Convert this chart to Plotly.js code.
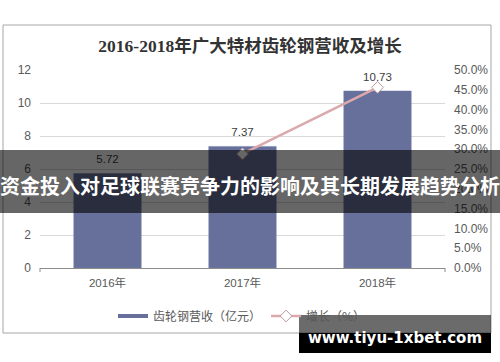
<!DOCTYPE html>
<html>
<head>
<meta charset="utf-8">
<script src="https://cdn.plot.ly/plotly-3.0.1.min.js"></script>
<style>html,body{margin:0;padding:0;background:#fff;}#chart{width:500px;height:362px;}</style>
</head>
<body>
<div id="chart"></div>
<script>
// ---- data ----
const categories = ['2016年', '2017年', '2018年'];
const revenue = [5.72, 7.37, 10.73];          // 齿轮钢营收（亿元）
const growth = [null, 0.288, 0.456];          // 增长（%）
const leftTicks = [0, 2, 4, 6, 8, 10, 12];
const rightTicks = [0, 0.05, 0.10, 0.15, 0.20, 0.25, 0.30, 0.35, 0.40, 0.45, 0.50];
const titleText = '2016-2018年广大特材齿轮钢营收及增长';
const revenueName = '齿轮钢营收（亿元）';
const growthName = '增长（%）';
const bannerText = '资金投入对足球联赛竞争力的影响及其长期发展趋势分析';
const watermarkText = 'www.tiyu-1xbet.com';

// ---- styles ----
const barColor = '#66709b';
const lineColor = '#dba9ac';
const txtColor = '#595959';
const font = 'Liberation Sans, Arial, Noto Sans CJK SC, sans-serif';
const cjk = 'Noto Sans CJK SC, sans-serif';

// pixel helpers -> paper coords (plot area x:40..445, y:70..268)
const px = v => (v - 40) / 405;
const py = v => (268 - v) / 198;

const traces = [
  {
    type: 'bar', x: categories, y: revenue, name: revenueName,
    marker: { color: barColor, line: { color: '#7a84ad', width: 0.5 } },
    showlegend: false, hoverinfo: 'x+y'
  },
  {
    type: 'scatter', mode: 'markers+text', x: categories, y: revenue,
    text: revenue.map(v => v.toFixed(2)), textposition: 'top center',
    textfont: { family: font, size: 11.5, color: '#404040' },
    marker: { size: 10, opacity: 0 }, showlegend: false, hoverinfo: 'skip'
  },
  {
    type: 'scatter', mode: 'lines', x: [null], y: [null], name: revenueName,
    line: { color: barColor, width: 4 }, showlegend: true, hoverinfo: 'skip'
  },
  {
    type: 'scatter', mode: 'lines+markers', x: categories, y: growth, yaxis: 'y2',
    name: growthName, connectgaps: false,
    line: { color: lineColor, width: 2.5 },
    marker: { symbol: 'diamond', size: 9, color: '#ffffff', line: { color: '#b89a9c', width: 1 } }
  }
];

const layout = {
  width: 500, height: 362,
  margin: { l: 40, r: 55, t: 70, b: 94 },
  paper_bgcolor: '#ffffff', plot_bgcolor: '#ffffff',
  font: { family: font, size: 12, color: txtColor },
  title: {
    text: titleText, x: 0.5, xref: 'container', xanchor: 'center',
    y: 1 - 46 / 362, yref: 'container', yanchor: 'middle',
    font: { family: 'Liberation Serif, Noto Sans CJK SC, serif', size: 17.5, color: '#333333', weight: 'bold' }
  },
  bargap: 0.5,
  xaxis: {
    type: 'category', showgrid: false, zeroline: false,
    showline: true, linecolor: '#8c8c8c', linewidth: 1,
    ticks: '', ticklabelstandoff: 4,
    tickfont: { family: font, size: 11.5, color: txtColor }, fixedrange: true
  },
  yaxis: {
    range: [0, 12], tickvals: leftTicks, ticktext: leftTicks.map(String),
    showgrid: true, gridcolor: '#d9d9d9', gridwidth: 1, zeroline: false, showline: false,
    ticks: '', ticklabelstandoff: 8,
    tickfont: { family: font, size: 12, color: txtColor }, fixedrange: true
  },
  yaxis2: {
    overlaying: 'y', side: 'right', range: [0, 0.5], tickvals: rightTicks,
    tickformat: '.1%', showgrid: false, zeroline: false, showline: false,
    ticks: '', ticklabelstandoff: 8,
    tickfont: { family: font, size: 12, color: txtColor }, fixedrange: true
  },
  showlegend: true,
  legend: {
    orientation: 'h', xref: 'container', yref: 'container',
    x: 113 / 500, xanchor: 'left', y: 1 - 316 / 362, yanchor: 'middle',
    font: { family: cjk, size: 12, color: txtColor },
    bgcolor: 'rgba(0,0,0,0)', traceorder: 'normal', itemclick: false
  },
  shapes: [
    // outer chart frame
    { type: 'rect', xref: 'paper', yref: 'paper', x0: px(3), x1: px(491), y0: py(333), y1: py(25),
      line: { color: '#a6a6a6', width: 1 }, fillcolor: 'rgba(0,0,0,0)', layer: 'below' },
    // x-axis end ticks
    { type: 'line', xref: 'paper', yref: 'paper', x0: 0, x1: 0, y0: 0, y1: py(272), line: { color: '#8c8c8c', width: 1 } },
    { type: 'line', xref: 'paper', yref: 'paper', x0: 1, x1: 1, y0: 0, y1: py(272), line: { color: '#8c8c8c', width: 1 } },
    // banner
    { type: 'rect', xref: 'paper', yref: 'paper', x0: px(-5), x1: px(505), y0: py(213), y1: py(150),
      line: { width: 0 }, fillcolor: 'rgba(0,0,0,0.6)', layer: 'above' },
    // watermark box
    { type: 'rect', xref: 'paper', yref: 'paper', x0: px(299), x1: px(491), y0: py(333), y1: py(315),
      line: { width: 0 }, fillcolor: 'rgba(0,0,0,0.58)', layer: 'above' },
    { type: 'rect', xref: 'paper', yref: 'paper', x0: px(299), x1: px(491), y0: py(353), y1: py(333),
      line: { width: 0 }, fillcolor: '#000000', layer: 'above' }
  ],
  annotations: [
    { text: bannerText, xref: 'paper', yref: 'paper', x: px(250), y: py(185),
      xanchor: 'center', yanchor: 'middle', showarrow: false,
      font: { family: cjk, size: 20, color: '#ffffff', weight: 'bold' } },
    { text: watermarkText, xref: 'paper', yref: 'paper', x: px(395), y: py(337.5),
      xanchor: 'center', yanchor: 'middle', showarrow: false,
      font: { family: 'DejaVu Sans, sans-serif', size: 15, color: '#ffffff', weight: 'bold' } }
  ]
};

Plotly.newPlot('chart', traces, layout, { displayModeBar: false, staticPlot: true });
</script>
</body>
</html>
